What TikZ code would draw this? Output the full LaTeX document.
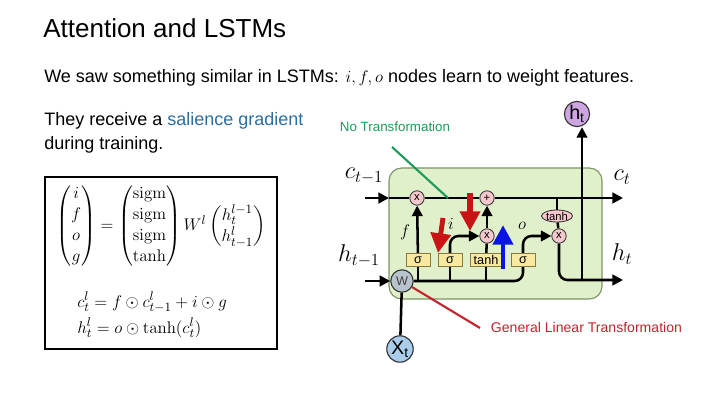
\documentclass[tikz,border=0pt]{standalone}
\usepackage{amsmath}
\usepackage[no-math]{fontspec}
\setmainfont{Liberation Sans}
\usetikzlibrary{arrows.meta,shapes.geometric}

\definecolor{cellfill}{RGB}{224,240,202}
\definecolor{celledge}{RGB}{125,148,105}
\definecolor{gatefill}{RGB}{247,233,160}
\definecolor{gateedge}{RGB}{140,120,60}
\definecolor{opfill}{RGB}{245,200,205}
\definecolor{wfill}{RGB}{185,195,205}
\definecolor{xfill}{RGB}{170,205,235}
\definecolor{hfill}{RGB}{205,165,225}
\definecolor{notrans}{RGB}{30,155,90}
\definecolor{gentrans}{RGB}{195,35,45}
\definecolor{salience}{RGB}{45,110,160}
\definecolor{redarr}{RGB}{200,20,20}
\definecolor{bluearr}{RGB}{10,20,230}

\newcommand\bodysize{\fontsize{12.8}{16}\selectfont}
\newcommand\eqsize{\fontsize{12.8}{15}\selectfont}

\begin{document}
\begin{tikzpicture}[x=0.025cm, y=-0.025cm,
  txt/.style={anchor=base west, inner sep=0pt},
  wire/.style={line width=1.8pt},
  arr/.style={wire, -{Triangle[length=7.5pt,width=7.5pt]}},
  gate/.style={rectangle, draw=gateedge, fill=gatefill, line width=0.6pt, minimum width=6mm, minimum height=3.3mm, inner sep=0pt, font=\fontsize{9}{9}\selectfont},
  op/.style={circle, draw=black!80, fill=opfill, line width=0.6pt, minimum size=3.6mm, inner sep=0pt, font=\fontsize{8}{8}\selectfont},
  port/.style={circle, draw=black!80, line width=0.8pt, inner sep=0pt},
  fat/.style={-{Triangle[length=14pt,width=14pt]}}]
  \path[fill=white, use as bounding box] (0,0) rectangle (720,405);

  % slide text
  \node[txt, font=\fontsize{18.5}{22}\selectfont] (title) at (43,38) {Attention and LSTMs};
  \node[txt, font=\bodysize] (line1) at (44,83) {We saw something similar in LSTMs: $i, f, o$ nodes learn to weight features.};
  \node[txt, font=\bodysize] (line2) at (44,126) {They receive a \textcolor{salience}{salience gradient}};
  \node[txt, font=\bodysize] (line3) at (44,150) {during training.};

  % equation box
  \draw[line width=2pt] (45,177) rectangle (277,349);
  \node[font=\eqsize, inner sep=0pt] (eqgate) at (161,226) {$\begin{pmatrix} i\\ f\\ o\\ g \end{pmatrix} = \begin{pmatrix} \mathrm{sigm}\\ \mathrm{sigm}\\ \mathrm{sigm}\\ \tanh \end{pmatrix} W^l \begin{pmatrix} h^{l-1}_t\\ h^l_{t-1} \end{pmatrix}$};
  \node[txt, font=\eqsize] (eqc) at (77,307) {$c^l_t = f \odot c^l_{t-1} + i \odot g$};
  \node[txt, font=\eqsize] (eqh) at (77,333) {$h^l_t = o \odot \tanh(c^l_t)$};

  % lstm cell
  \draw[fill=cellfill, draw=celledge, line width=0.8pt, rounded corners=9pt] (389,168) rectangle (602,299);
  \node[op] (mulf) at (417,198) {x};
  \node[op] (add) at (487,198) {+};
  \node[op] (muli) at (487,236) {x};
  \node[op] (mulo) at (559,236) {x};
  \node[op, ellipse, minimum width=7.5mm, minimum height=3mm] (tanhc) at (557,216) {tanh};
  \node[gate] (fsig) at (418,260) {σ};
  \node[gate] (isig) at (450,260) {σ};
  \node[gate, minimum width=7.8mm] (gtanh) at (486,260) {tanh};
  \node[gate] (osig) at (523,260) {σ};
  \node[port, fill=wfill, minimum size=5.6mm, font=\fontsize{9}{9}\selectfont\color{black!75}] (W) at (402,281) {W};
  \node[port, fill=xfill, minimum size=6.6mm, font=\fontsize{14}{14}\selectfont] (xt) at (400,349) {X\textsubscript{t}};
  \node[port, fill=hfill, minimum size=6.3mm, font=\fontsize{14}{14}\selectfont] (ht) at (577,114) {h\textsubscript{t}};

  \node[font=\LARGE] (clab) at (364,176) {$c_{t-1}$};
  \node[font=\LARGE] (hlab) at (359,256) {$h_{t-1}$};
  \node[font=\LARGE] (ctlab) at (622,177) {$c_t$};
  \node[font=\LARGE] (htlab) at (622,254) {$h_t$};
  \node[font=\large] (flab) at (405,232) {$f$};
  \node[font=\large] (ilab) at (451,224) {$i$};
  \node[font=\large] (olab) at (522,226) {$o$};

  \coordinate (cin) at (365,198);
  \coordinate (cedge) at (389,198);
  \coordinate (cout) at (623,198);
  \coordinate (ctap) at (557,198);
  \coordinate (hin) at (365,281);
  \coordinate (hout) at (623,280);
  \coordinate (hsplit) at (582,280);

  \draw[arr] (cin) -- (cedge);
  \draw[wire] (cedge) -- (mulf);
  \draw[wire] (mulf) -- (add);
  \draw[arr] (add) -- (cout);
  \draw[wire] (ctap) -- (tanhc);
  \draw[wire] (tanhc) -- (mulo);
  \draw[arr, rounded corners=6pt] (mulo) |- (hout);
  \draw[arr] (hsplit) -- (hsplit |- ht.south);
  \draw[arr] (hin) -- (W);
  \draw[wire, rounded corners=6pt] (W) -| (osig);
  \draw[wire] (fsig) -- (fsig |- W);
  \draw[wire] (isig) -- (isig |- W);
  \draw[wire] (gtanh) -- (gtanh |- W);
  \draw[arr] (fsig) -- (mulf);
  \draw[arr, rounded corners=6pt] (isig) |- (muli);
  \draw[wire] (gtanh) -- (muli);
  \draw[arr] (muli) -- (add);
  \draw[arr, rounded corners=6pt] (osig) |- (mulo);
  \draw[wire] (W) -- (xt);

  % gradient arrows
  \coordinate (r1s) at (443,218);
  \coordinate (r1e) at (438,253);
  \coordinate (r2s) at (470,193);
  \coordinate (r2e) at (470,231);
  \coordinate (b1s) at (503,269);
  \coordinate (b1e) at (503,225);
  \draw[fat, draw=redarr, fill=redarr, line width=3.5pt] (r1s) -- (r1e);
  \draw[fat, draw=redarr, fill=redarr, line width=4.8pt] (r2s) -- (r2e);
  \draw[fat, draw=bluearr, fill=bluearr, line width=3.5pt] (b1s) -- (b1e);

  % annotations
  \node[text=notrans, font=\fontsize{9.5}{11}\selectfont] (notr) at (395,127) {No Transformation};
  \coordinate (notrs) at (392,147);
  \coordinate (notre) at (448,198);
  \draw[notrans, line width=1.5pt] (notrs) -- (notre);
  \node[text=gentrans, font=\fontsize{10}{12}\selectfont, anchor=west] (gent) at (486,327) {General Linear Transformation};
  \coordinate (gente) at (480,328);
  \draw[gentrans, line width=1.5pt] (W) -- (gente);
\end{tikzpicture}
\end{document}
